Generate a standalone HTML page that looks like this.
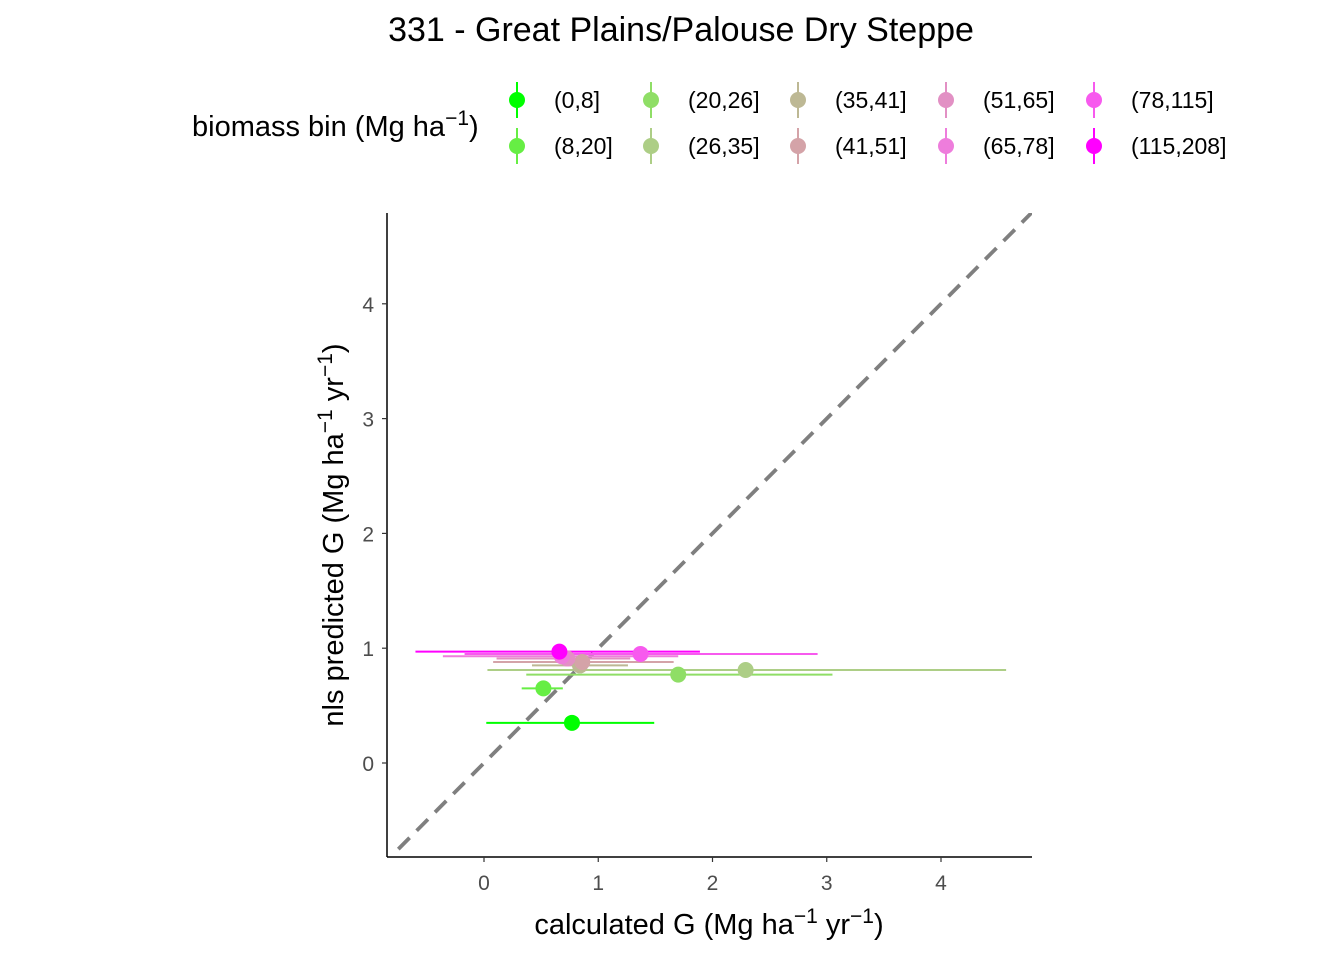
<!DOCTYPE html>
<html><head><meta charset="utf-8"><style>
html,body{margin:0;padding:0;background:#fff;}
svg{display:block;font-family:"Liberation Sans",Arial,sans-serif;}
</style></head><body>
<svg id="chart" width="1344" height="960">
<text x="681" y="41" text-anchor="middle" font-size="34" fill="#000">331 - Great Plains/Palouse Dry Steppe</text>
<g id="legend">
<text x="192" y="136" font-size="29" fill="#000">biomass bin (Mg ha<tspan dy="-11" font-size="21">−1</tspan><tspan dy="11">)</tspan></text>
</g>
<g id="plot"></g>
<line x1="387" y1="213" x2="387" y2="857" stroke="#000" stroke-width="1.5"/>
<line x1="387" y1="857" x2="1032" y2="857" stroke="#000" stroke-width="1.5"/>
<g id="axes"></g>
<text x="709" y="934" text-anchor="middle" font-size="29" fill="#000">calculated G (Mg ha<tspan dy="-11" font-size="21">−1</tspan><tspan dy="11"> yr</tspan><tspan dy="-11" font-size="21">−1</tspan><tspan dy="11">)</tspan></text>
<text transform="translate(343,535) rotate(-90)" text-anchor="middle" font-size="29" fill="#000">nls predicted G (Mg ha<tspan dy="-11" font-size="21">−1</tspan><tspan dy="11"> yr</tspan><tspan dy="-11" font-size="21">−1</tspan><tspan dy="11">)</tspan></text>
</svg>
<script>
const bins = ["(0,8]","(8,20]","(20,26]","(26,35]","(35,41]","(41,51]","(51,65]","(65,78]","(78,115]","(115,208]"];
const colors = ["#00FF00","#66EE44","#8FDE66","#ADCE86","#BDB894","#D4A3A8","#E290C4","#EE7DDC","#F75AEE","#FF00FF"];
const xVals = [0.77,0.52,1.70,2.29,0.84,0.86,0.73,0.68,1.37,0.66];
const yVals = [0.35,0.65,0.77,0.81,0.85,0.88,0.91,0.93,0.95,0.97];
const xLow = [0.02,0.33,0.37,0.03,0.42,0.08,0.11,-0.36,-0.17,-0.60];
const xHigh = [1.49,0.69,3.05,4.57,1.26,1.66,1.28,1.70,2.92,1.89];
const xTicks = [0,1,2,3,4];
const yTicks = [0,1,2,3,4];
const NS="http://www.w3.org/2000/svg";
const sx = v => 484 + v*114.25;
const sy = v => 763 - v*114.8;
function mk(tag, attrs, parent){const e=document.createElementNS(NS,tag);for(const k in attrs)e.setAttribute(k,attrs[k]);parent.appendChild(e);return e;}
const plot=document.getElementById('plot'), axes=document.getElementById('axes'), legend=document.getElementById('legend');
const defs=mk('defs',{},plot);const cp=mk('clipPath',{id:'clip'},defs);mk('rect',{x:387,y:213,width:645,height:644},cp);
const g=mk('g',{'clip-path':'url(#clip)'},plot);
const diag=mk('line',{x1:sx(-0.75),y1:sy(-0.75),x2:sx(4.85),y2:sy(4.85),stroke:'#7F7F7F','stroke-width':3.8,'stroke-dasharray':'16,10'},g);


bins.forEach((b,i)=>{
  const bar=mk('line',{x1:sx(xLow[i]),x2:sx(xHigh[i]),y1:sy(yVals[i]),y2:sy(yVals[i]),stroke:colors[i],'stroke-width':2},g);
  
  
});
bins.forEach((b,i)=>{
  const pt=mk('circle',{cx:sx(xVals[i]),cy:sy(yVals[i]),r:8,fill:colors[i]},g);
  
  
});
xTicks.forEach(t=>{
  const tk=mk('line',{x1:sx(t),x2:sx(t),y1:857,y2:862,stroke:'#333','stroke-width':1.2},axes);
  
  
  const lb=mk('text',{x:sx(t),y:890,'text-anchor':'middle','font-size':21,fill:'#4D4D4D'},axes);lb.textContent=t;
  
  
});
yTicks.forEach(t=>{
  const tk=mk('line',{x1:382,x2:387,y1:sy(t),y2:sy(t),stroke:'#333','stroke-width':1.2},axes);
  
  
  const lb=mk('text',{x:374,y:sy(t)+8,'text-anchor':'end','font-size':21,fill:'#4D4D4D'},axes);lb.textContent=t;
  
  
});
const colX=[517,651,798,946,1094], rowY=[100,146];
bins.forEach((b,i)=>{
  const cx=colX[Math.floor(i/2)], cy=rowY[i%2];
  const ent=mk('g',{},legend);
  
  
  mk('line',{x1:cx,x2:cx,y1:cy-18,y2:cy+18,stroke:colors[i],'stroke-width':2},ent);
  mk('circle',{cx:cx,cy:cy,r:8,fill:colors[i]},ent);
  const t=mk('text',{x:cx+37,y:cy+8,'font-size':23,fill:'#000'},ent);t.textContent=b;
});
</script>
</body></html>
